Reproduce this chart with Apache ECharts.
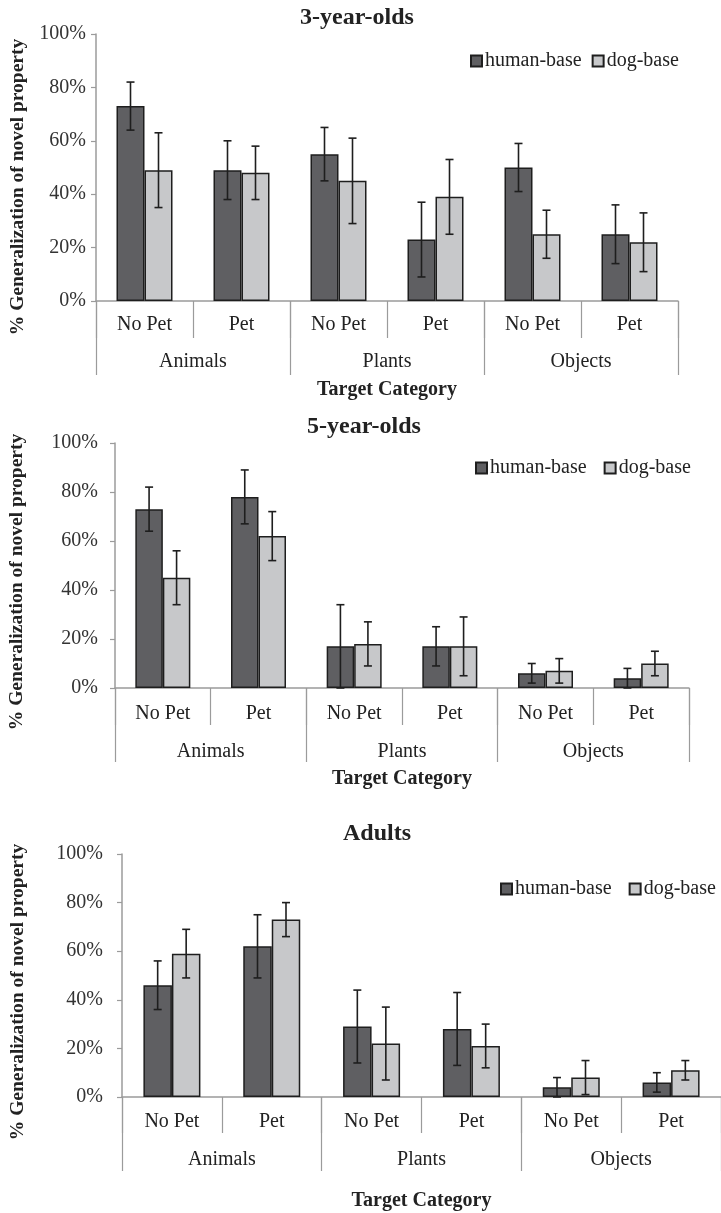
<!DOCTYPE html>
<html>
<head>
<meta charset="utf-8">
<script src="https://cdn.jsdelivr.net/npm/echarts@6/dist/echarts.min.js"></script>
<style>
  html, body { margin: 0; padding: 0; background: #fff; }
  #chart { width: 721px; height: 1213px; }
</style>
</head>
<body>
<div id="chart"></div>
<script>
// Target categories: pet condition within each category group
const conditions = ['No Pet', 'Pet', 'No Pet', 'Pet', 'No Pet', 'Pet'];
const groups = ['Animals', 'Plants', 'Objects'];
const seriesNames = ['human-base', 'dog-base'];
const panelTitles = ['3-year-olds', '5-year-olds', 'Adults'];

// % generalization of novel property (means and error half-widths)
const age3Human = [73, 49, 55, 23, 50, 25];
const age3HumanErr = [9, 11, 10, 14, 9, 11];
const age3Dog = [49, 48, 45, 39, 25, 22];
const age3DogErr = [14, 10, 16, 14, 9, 11];

const age5Human = [73, 78, 17, 17, 6, 4];
const age5HumanErr = [9, 11, 17, 8, 4, 4];
const age5Dog = [45, 62, 18, 17, 7, 10];
const age5DogErr = [11, 10, 9, 12, 5, 5];

const adultHuman = [46, 62, 29, 28, 4, 6];
const adultHumanErr = [10, 13, 15, 15, 4, 4];
const adultDog = [59, 73, 22, 21, 8, 11];
const adultDogErr = [10, 7, 15, 9, 7, 4];

const yMin = 0, yMax = 100, yStep = 20;

const panelData = [
  { human: age3Human, humanErr: age3HumanErr, dog: age3Dog, dogErr: age3DogErr },
  { human: age5Human, humanErr: age5HumanErr, dog: age5Dog, dogErr: age5DogErr },
  { human: adultHuman, humanErr: adultHumanErr, dog: adultDog, dogErr: adultDogErr }
];

// Layout of the three stacked panels
const W = 721;
const layout = [
  { grid: { left: 96, right: 43, top: 34, height: 267 }, barW: 28, tickShort: 37, tickLong: 74,
    lab1: 14, lab2: 51, yLabMargin: 10, titleX: 357, titleY: 18,
    legend: { left: 470, top: 51, gap: 10 }, yNameX: 18, yNameY: 187, xNameY: 390 },
  { grid: { left: 115, right: 32, top: 443, height: 245 }, barW: 27.5, tickShort: 37, tickLong: 74,
    lab1: 16, lab2: 54, yLabMargin: 17, titleX: 364, titleY: 427,
    legend: { left: 475, top: 458, gap: 17 }, yNameX: 17, yNameY: 582, xNameY: 779 },
  { grid: { left: 122, right: 0, top: 854, height: 243 }, barW: 28.5, tickShort: 36, tickLong: 74,
    lab1: 15, lab2: 53, yLabMargin: 19, titleX: 377, titleY: 834,
    legend: { left: 500, top: 879, gap: 17 }, yNameX: 18, yNameY: 992, xNameY: 1201 }
];

const FONT = '"Liberation Serif", "Times New Roman", serif';
const TEXT = '#222';
const AXIS = '#9b9b9b';
const HUMAN = '#5f5f62';
const DOG = '#c7c8ca';
const EDGE = '#1e1e1e';

const grids = [], xAxes = [], yAxes = [], series = [], legends = [], graphics = [];

function errorBars(p, vals, errs, side, name, barW) {
  return {
    type: 'custom',
    name: name,
    xAxisIndex: p * 2,
    yAxisIndex: p,
    z: 5,
    silent: true,
    data: vals.map((v, i) => [i, v - errs[i], v + errs[i]]),
    renderItem: function (params, api) {
      const top = api.coord([api.value(0), api.value(2)]);
      const bot = api.coord([api.value(0), api.value(1)]);
      const x = top[0] + side * barW / 2;
      const st = { stroke: EDGE, lineWidth: 1.6 };
      return {
        type: 'group',
        children: [
          { type: 'line', shape: { x1: x, y1: top[1], x2: x, y2: bot[1] }, style: st },
          { type: 'line', shape: { x1: x - 4, y1: top[1], x2: x + 4, y2: top[1] }, style: st },
          { type: 'line', shape: { x1: x - 4, y1: bot[1], x2: x + 4, y2: bot[1] }, style: st }
        ]
      };
    }
  };
}

layout.forEach((L, p) => {
  const d = panelData[p];
  grids.push(Object.assign({ containLabel: false }, L.grid));

  // Level 1: pet condition
  xAxes.push({
    type: 'category', gridIndex: p, position: 'bottom', data: conditions,
    axisLine: { show: true, lineStyle: { color: AXIS, width: 1.5 } },
    axisTick: { show: true, length: L.tickShort, lineStyle: { color: AXIS, width: 1.2 } },
    axisLabel: { margin: L.lab1, fontFamily: FONT, fontSize: 20, color: TEXT, interval: 0 },
    splitLine: { show: false }
  });
  // Level 2: category group
  xAxes.push({
    type: 'category', gridIndex: p, position: 'bottom', data: groups,
    axisLine: { show: false },
    axisTick: { show: true, length: L.tickLong, lineStyle: { color: AXIS, width: 1.2 } },
    axisLabel: { margin: L.lab2, fontFamily: FONT, fontSize: 20, color: TEXT, interval: 0 },
    splitLine: { show: false }
  });

  yAxes.push({
    type: 'value', gridIndex: p, min: yMin, max: yMax, interval: yStep,
    axisLine: { show: true, lineStyle: { color: AXIS, width: 1.5 } },
    axisTick: { show: true, length: 5, inside: false, lineStyle: { color: AXIS, width: 1.2 } },
    axisLabel: { formatter: '{value}%', margin: L.yLabMargin, fontFamily: FONT, fontSize: 20, color: '#333' },
    splitLine: { show: false }
  });

  series.push({
    type: 'bar', name: seriesNames[0], xAxisIndex: p * 2, yAxisIndex: p,
    data: d.human, barWidth: L.barW, barGap: '0%',
    itemStyle: { color: HUMAN, borderColor: EDGE, borderWidth: 1.5 },
    emphasis: { disabled: true }
  });
  series.push({
    type: 'bar', name: seriesNames[1], xAxisIndex: p * 2, yAxisIndex: p,
    data: d.dog, barWidth: L.barW, barGap: '0%',
    itemStyle: { color: DOG, borderColor: EDGE, borderWidth: 1.5 },
    emphasis: { disabled: true }
  });
  series.push(errorBars(p, d.human, d.humanErr, -1, seriesNames[0] + ' error', L.barW));
  series.push(errorBars(p, d.dog, d.dogErr, 1, seriesNames[1] + ' error', L.barW));

  legends.push({
    data: seriesNames, left: L.legend.left, top: L.legend.top, orient: 'horizontal',
    icon: 'rect', itemWidth: 11, itemHeight: 11, itemGap: L.legend.gap, padding: 0,
    selectedMode: false,
    textStyle: { fontFamily: FONT, fontSize: 20, color: TEXT, padding: [0, 0, 0, -2] }
  });

  // Panel title
  graphics.push({
    type: 'text', x: L.titleX, y: L.titleY,
    style: { text: panelTitles[p], fontFamily: FONT, fontSize: 24, fontWeight: 'bold',
             fill: TEXT, align: 'center', verticalAlign: 'middle' }
  });
  // Y-axis title
  graphics.push({
    type: 'text', x: L.yNameX, y: L.yNameY, rotation: Math.PI / 2,
    style: { text: '% Generalization of novel property', fontFamily: FONT, fontSize: 19.5,
             fontWeight: 'bold', fill: TEXT, align: 'center', verticalAlign: 'middle' }
  });
  // X-axis title, centred under the plot
  const plotCenter = L.grid.left + (W - L.grid.left - L.grid.right) / 2;
  graphics.push({
    type: 'text', x: plotCenter, y: L.xNameY,
    style: { text: 'Target Category', fontFamily: FONT, fontSize: 20, fontWeight: 'bold',
             fill: TEXT, align: 'center', verticalAlign: 'middle' }
  });
});

const chart = echarts.init(document.getElementById('chart'), null, { renderer: 'canvas' });
chart.setOption({
  animation: false,
  backgroundColor: '#fff',
  grid: grids,
  xAxis: xAxes,
  yAxis: yAxes,
  legend: legends,
  series: series,
  graphic: graphics
});
</script>
</body>
</html>
